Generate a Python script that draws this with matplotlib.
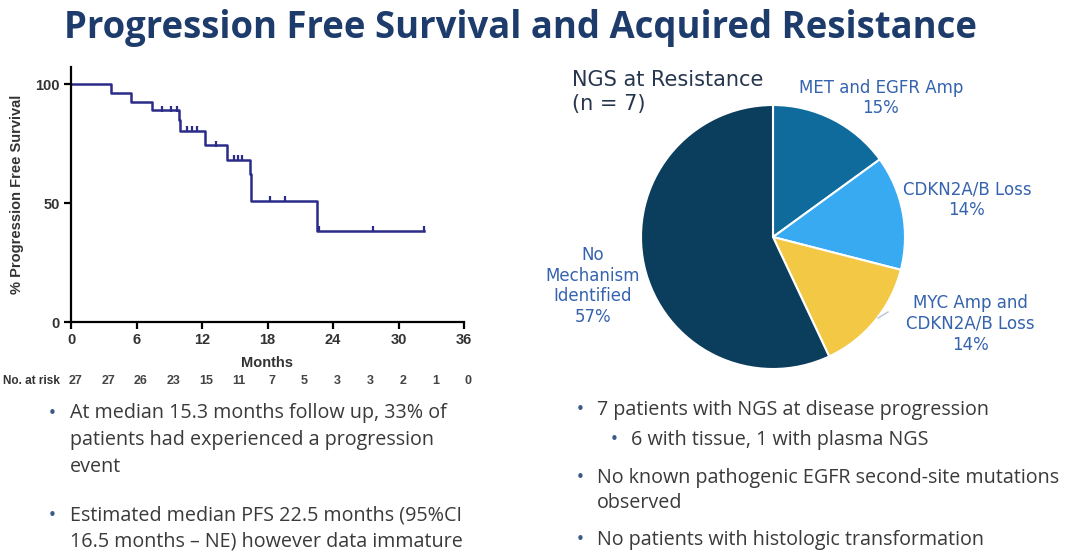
import numpy as np
import matplotlib
matplotlib.use("Agg")
import matplotlib.pyplot as plt

# Kaplan-Meier curve
km_times = [0, 3.7, 5.5, 7.4, 9.9, 10.0, 12.3, 14.3, 16.4, 16.5, 22.5, 32.3]
km_surv = [100, 96.3, 92.6, 88.9, 84.7, 80.4, 74.2, 68.0, 62.3, 50.9, 38.2, 38.2]
censor_times = [8.3, 9.2, 9.7, 10.6, 11.05, 11.5, 13.3, 14.9, 15.3, 15.7, 18.2, 19.6, 22.7, 27.7, 32.3]
censor_surv = [88.9, 88.9, 88.9, 80.4, 80.4, 80.4, 74.2, 68.0, 68.0, 68.0, 50.9, 50.9, 38.2, 38.2, 38.2]
risk_months = [0, 3, 6, 9, 12, 15, 18, 21, 24, 27, 30, 33, 36]
at_risk = [27, 27, 26, 23, 15, 11, 7, 5, 3, 3, 2, 1, 0]
x_ticks = [0, 6, 12, 18, 24, 30, 36]
y_ticks = [0, 50, 100]

# pie
pie_labels = ["MET and EGFR Amp\n15%", "CDKN2A/B Loss\n14%",
              "MYC Amp and\nCDKN2A/B Loss\n14%", "No\nMechanism\nIdentified\n57%"]
pie_values = [15, 14, 14, 57]
pie_colors = ["#0e6b9c", "#38aaf2", "#f2c844", "#0b3d5c"]

left_bullets = [
    ["At median 15.3 months follow up, 33% of",
     "patients had experienced a progression",
     "event"],
    ["Estimated median PFS 22.5 months (95%CI",
     "16.5 months \u2013 NE) however data immature"],
]
right_bullets = [
    (0, ["7 patients with NGS at disease progression"]),
    (1, ["6 with tissue, 1 with plasma NGS"]),
    (0, ["No known pathogenic EGFR second-site mutations", "observed"]),
    (0, ["No patients with histologic transformation"]),
]

W, H = 1080, 551
fig = plt.figure(figsize=(W / 100, H / 100), dpi=100)
fig.patch.set_facecolor("white")

def fx(px):
    return px / W

def fy(py):
    return 1 - py / H

body_font = ["Open Sans", "DejaVu Sans"]
km_font = ["Liberation Sans", "DejaVu Sans"]
navy = "#1d3c6c"

fig.text(fx(521), fy(28), "Progression Free Survival and Acquired Resistance",
         ha="center", va="center", fontsize=26.3, fontweight="bold",
         color=navy, family=body_font)

# ---- KM plot ----
y0, y100 = 322.3, 84.0
ppu = (y0 - y100) / 100
ytop = 107
ax = fig.add_axes([fx(71), 1 - y0 / H, fx(464) - fx(71), (ytop * ppu) / H])
ax.step(km_times, km_surv, where="post", color="#2b2b88", lw=1.8)
ax.plot(censor_times, [s + 0.8 for s in censor_surv], ls="none", marker="|",
        ms=4.5, mew=1.6, color="#2b2b88")
ax.set_xlim(0, 36)
ax.set_ylim(0, ytop)
ax.set_xticks(x_ticks)
ax.set_yticks(y_ticks)
for s in ["top", "right"]:
    ax.spines[s].set_visible(False)
for s in ["left", "bottom"]:
    ax.spines[s].set_linewidth(1.6)
ax.tick_params(direction="out", length=5, width=1.6, labelsize=10.5,
               labelcolor="#333333", pad=3)
for lab in ax.get_xticklabels() + ax.get_yticklabels():
    lab.set_fontweight("bold")
    lab.set_family(km_font)
ax.set_xlabel("Months", fontsize=10.5, fontweight="bold", color="#333333",
              labelpad=6, family=km_font)
ax.set_ylabel("% Progression Free Survival", fontsize=10.5, fontweight="bold",
              color="#333333", labelpad=8, family=km_font)
ax.set_facecolor("none")

tr = ax.get_xaxis_transform()
ax_h = ytop * ppu
risk_y = -(381 - y0) / ax_h
ax.text(-1.0, risk_y, "No. at risk", transform=tr, ha="right", va="center",
        fontsize=8.5, fontweight="bold", color="#333333", family=km_font)
for m, n in zip(risk_months, at_risk):
    ax.text(m + 0.4, risk_y, str(n), transform=tr, ha="center", va="center",
            fontsize=9, fontweight="bold", color="#444444", family=km_font)

# ---- pie ----
cx, cy, r = 773, 237, 132
pax = fig.add_axes([fx(cx - r), 1 - (cy + r) / H, 2 * r / W, 2 * r / H])
pax.pie(pie_values, colors=pie_colors, startangle=90, counterclock=False,
        wedgeprops=dict(edgecolor="white", linewidth=1.5))
pax.set_aspect("auto")
pax.set_xlim(-1, 1)
pax.set_ylim(-1, 1)
pax.axis("off")

label_col = "#3563ad"
label_pos = [(881, 98), (967, 200), (970, 324), (593, 286)]
for txt, (px, py) in zip(pie_labels, label_pos):
    fig.text(fx(px), fy(py), txt, ha="center", va="center", fontsize=12,
             color=label_col, linespacing=1.2, family="DejaVu Sans")
fig.add_artist(plt.Line2D([fx(878), fx(888)], [fy(318), fy(312)],
                          color="#b8c4d4", lw=1))

fig.text(fx(572), fy(92), "NGS at Resistance\n(n = 7)", ha="left", va="center",
         fontsize=15, color="#27364f", linespacing=1.25, family="DejaVu Sans")

# ---- bullets ----
text_col = "#3a3a3a"
bfs = 14.2
ly = [413, 440, 467]
ly2 = [515, 542]
for lines, ys in zip(left_bullets, [ly, ly2]):
    fig.text(fx(52), fy(ys[0]), "\u2022", ha="center", va="center",
             fontsize=11, color="#3a5a88")
    for t, yy in zip(lines, ys):
        fig.text(fx(70), fy(yy), t, ha="left", va="center", fontsize=bfs,
                 color=text_col, family=body_font)

ry = [[410], [440], [478, 503], [540]]
for (lvl, lines), ys in zip(right_bullets, ry):
    bx = 580 if lvl == 0 else 614
    tx = 597 if lvl == 0 else 631
    fig.text(fx(bx), fy(ys[0]), "\u2022", ha="center", va="center",
             fontsize=11, color="#3a5a88")
    for t, yy in zip(lines, ys):
        fig.text(fx(tx), fy(yy), t, ha="left", va="center", fontsize=bfs,
                 color=text_col, family=body_font)

fig.savefig("out.png", dpi=100)
